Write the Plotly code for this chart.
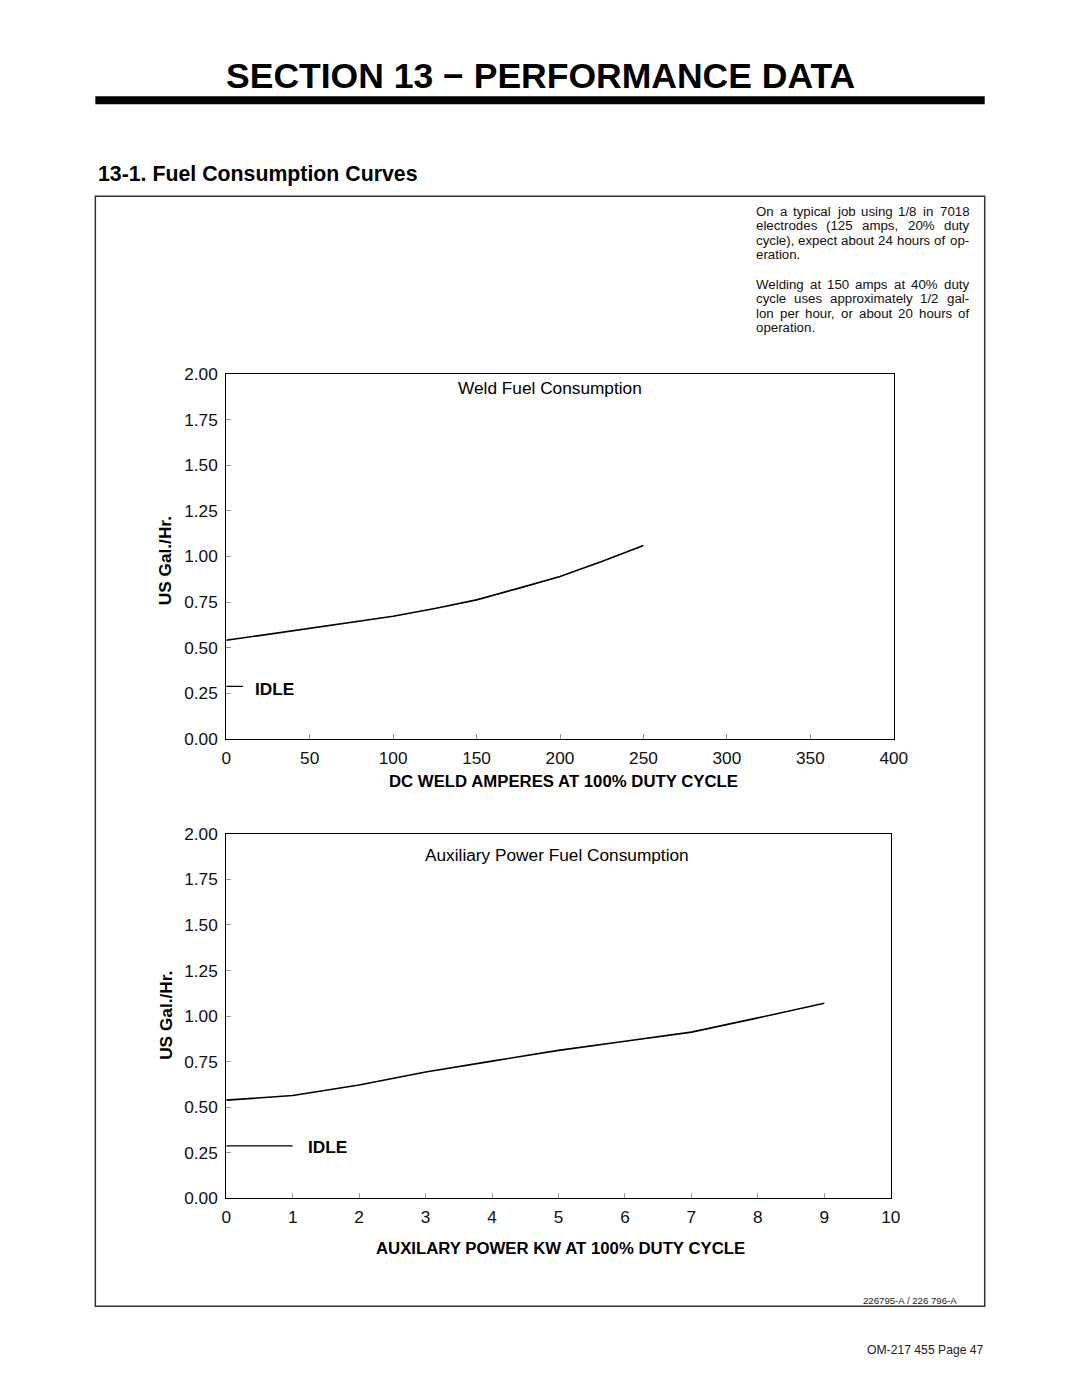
import plotly.graph_objects as go

# ---------------- data ----------------
weld_amps = [0, 50, 100, 125, 150, 175, 200, 225, 250]
weld_gal = [0.54, 0.605, 0.672, 0.715, 0.762, 0.825, 0.89, 0.972, 1.06]
weld_idle_amps = [0, 10]
aux_kw = [0, 1, 2, 3, 4, 5, 6, 7, 8, 9]
aux_gal = [0.539, 0.564, 0.622, 0.693, 0.753, 0.812, 0.862, 0.912, 0.99, 1.07]
aux_idle_kw = [0, 1]
idle_gal = [0.288, 0.288]
y_ticks = [0, 0.25, 0.5, 0.75, 1.0, 1.25, 1.5, 1.75, 2.0]
y_tick_labels = ["0.00", "0.25", "0.50", "0.75", "1.00", "1.25", "1.50", "1.75", "2.00"]
weld_x_ticks = [0, 50, 100, 150, 200, 250, 300, 350, 400]
aux_x_ticks = [0, 1, 2, 3, 4, 5, 6, 7, 8, 9, 10]

# (text, justified?)
note_lines = [
    ("On a typical job using 1/8 in 7018", True),
    ("electrodes (125 amps, 20% duty", True),
    ("cycle), expect about 24 hours of op-", True),
    ("eration.", False),
    ("", False),
    ("Welding at 150 amps at 40% duty", True),
    ("cycle uses approximately 1/2 gal-", True),
    ("lon per hour, or about 20 hours of", True),
    ("operation.", False),
]

W, H = 1080, 1397
FONT = "Liberation Sans, Arial, Helvetica, sans-serif"

# page-to-photo calibration (the photo is slightly scaled/shifted)
SX, BX = 0.9831, 4.6
SY, BY = 0.9865, 8.6
FS = 1 / 0.985


def px(x):
    return ((x - BX) / SX) / W


def py(y):
    return 1 - ((y - BY) / SY) / H


def fs(s):
    return s * FS


# Helvetica / Arial advance widths (1/1000 em) for the note text
CW = {" ": 278, "(": 333, ")": 333, ",": 278, "-": 333, ".": 278, "/": 278, "%": 889,
      "O": 778, "W": 944,
      "a": 556, "b": 556, "c": 500, "d": 556, "e": 556, "f": 278, "g": 556, "h": 556,
      "i": 222, "j": 222, "k": 500, "l": 222, "m": 833, "n": 556, "o": 556, "p": 556,
      "q": 556, "r": 333, "s": 500, "t": 278, "u": 556, "v": 500, "w": 722, "x": 500,
      "y": 500, "z": 500}


def tw(s, size):
    return sum(CW.get(c, 556) for c in s) / 1000.0 * size


fig = go.Figure()
fig.add_trace(go.Scatter(x=weld_amps, y=weld_gal, mode="lines",
                         line=dict(color="black", width=1.6), xaxis="x", yaxis="y",
                         showlegend=False, hoverinfo="skip"))
fig.add_trace(go.Scatter(x=weld_idle_amps, y=idle_gal, mode="lines",
                         line=dict(color="black", width=1.3), xaxis="x", yaxis="y",
                         showlegend=False, hoverinfo="skip"))
fig.add_trace(go.Scatter(x=aux_kw, y=aux_gal, mode="lines",
                         line=dict(color="black", width=1.6), xaxis="x2", yaxis="y2",
                         showlegend=False, hoverinfo="skip"))
fig.add_trace(go.Scatter(x=aux_idle_kw, y=idle_gal, mode="lines",
                         line=dict(color="black", width=1.3), xaxis="x2", yaxis="y2",
                         showlegend=False, hoverinfo="skip"))

tickfont = dict(family=FONT, size=fs(17), color="#111")
common_x = dict(showline=True, linecolor="black", linewidth=1, mirror=True,
                ticks="inside", ticklen=5, tickcolor="#999", showgrid=False,
                zeroline=False, tickfont=tickfont, ticklabelstandoff=3)
common_y = dict(showline=True, linecolor="black", linewidth=1, mirror=True,
                ticks="inside", ticklen=5, tickcolor="#999", showgrid=False,
                zeroline=False, tickfont=tickfont, range=[0, 2],
                ticklabelstandoff=4,
                tickmode="array", tickvals=y_ticks, ticktext=y_tick_labels)

fig.update_layout(
    width=W, height=H, margin=dict(l=0, r=0, t=0, b=0),
    paper_bgcolor="white", plot_bgcolor="white",
    xaxis=dict(domain=[px(226), px(894)], anchor="y", range=[0, 400],
               tickmode="array", tickvals=weld_x_ticks, **common_x),
    yaxis=dict(domain=[py(738), py(373)], anchor="x", **common_y),
    xaxis2=dict(domain=[px(226), px(891)], anchor="y2", range=[0, 10],
                tickmode="array", tickvals=aux_x_ticks, **common_x),
    yaxis2=dict(domain=[py(1198), py(833)], anchor="x2", **common_y),
)

shapes = [
    # thick rule under the section title
    dict(type="rect", xref="paper", yref="paper", x0=px(95), x1=px(985),
         y0=py(103), y1=py(95), fillcolor="black", line=dict(width=0)),
    # outer frame
    dict(type="rect", xref="paper", yref="paper", x0=px(95), x1=px(985),
         y0=py(1306), y1=py(195), line=dict(color="#333", width=1.5)),
]
fig.update_layout(shapes=shapes)

ann = []


def text(x, y, s, size, bold=False, xanchor="center", angle=0, color="black"):
    ann.append(dict(xref="paper", yref="paper", x=px(x), y=py(y), text=s,
                    showarrow=False, xanchor=xanchor, yanchor="middle",
                    textangle=angle, borderpad=0,
                    font=dict(family=FONT, size=fs(size), color=color,
                              weight="bold" if bold else "normal")))


text(540, 75, "SECTION 13 − PERFORMANCE DATA", 35, bold=True)
text(97, 173, "13-1. Fuel Consumption Curves", 21, bold=True, xanchor="left")

# justified note block
NOTE_X0, NOTE_X1 = 755, 968
NOTE_SIZE = 13.1
y0 = 210
for i, (line, just) in enumerate(note_lines):
    if not line:
        continue
    yy = y0 + i * 14.6
    words = line.split(" ")
    if just and len(words) > 1:
        total = sum(tw(w, NOTE_SIZE) for w in words)
        gap = (NOTE_X1 - NOTE_X0 - total) / (len(words) - 1)
        xx = NOTE_X0
        for w in words:
            text(xx, yy, w, NOTE_SIZE, xanchor="left", color="#111")
            xx += tw(w, NOTE_SIZE) + gap
    else:
        text(NOTE_X0, yy, line, NOTE_SIZE, xanchor="left", color="#111")

text(550, 387, "Weld Fuel Consumption", 17)
text(557, 854, "Auxiliary Power Fuel Consumption", 17)
text(165, 560, "US Gal./Hr.", 17, bold=True, angle=-90)
text(165, 1015, "US Gal./Hr.", 17, bold=True, angle=-90)
text(563, 781, "DC WELD AMPERES AT 100% DUTY CYCLE", 16.5, bold=True)
text(560, 1248, "AUXILARY POWER KW AT 100% DUTY CYCLE", 16.5, bold=True)
text(958, 1300, "226795-A / 226 796-A", 9.5, xanchor="right", color="#222")
text(985, 1350, "OM-217 455 Page 47", 12, xanchor="right", color="#222")

# IDLE labels in data coordinates
ann.append(dict(xref="x", yref="y", x=16, y=0.274, text="IDLE", showarrow=False,
                xanchor="left", yanchor="middle",
                font=dict(family=FONT, size=fs(17), color="black", weight="bold")))
ann.append(dict(xref="x2", yref="y2", x=1.2, y=0.28, text="IDLE", showarrow=False,
                xanchor="left", yanchor="middle",
                font=dict(family=FONT, size=fs(17), color="black", weight="bold")))

fig.update_layout(annotations=ann)
fig.write_html("out.html", config={"displayModeBar": False},
               post_script="document.body.style.margin='0px';document.body.style.padding='0px';document.body.style.overflow='hidden';")
